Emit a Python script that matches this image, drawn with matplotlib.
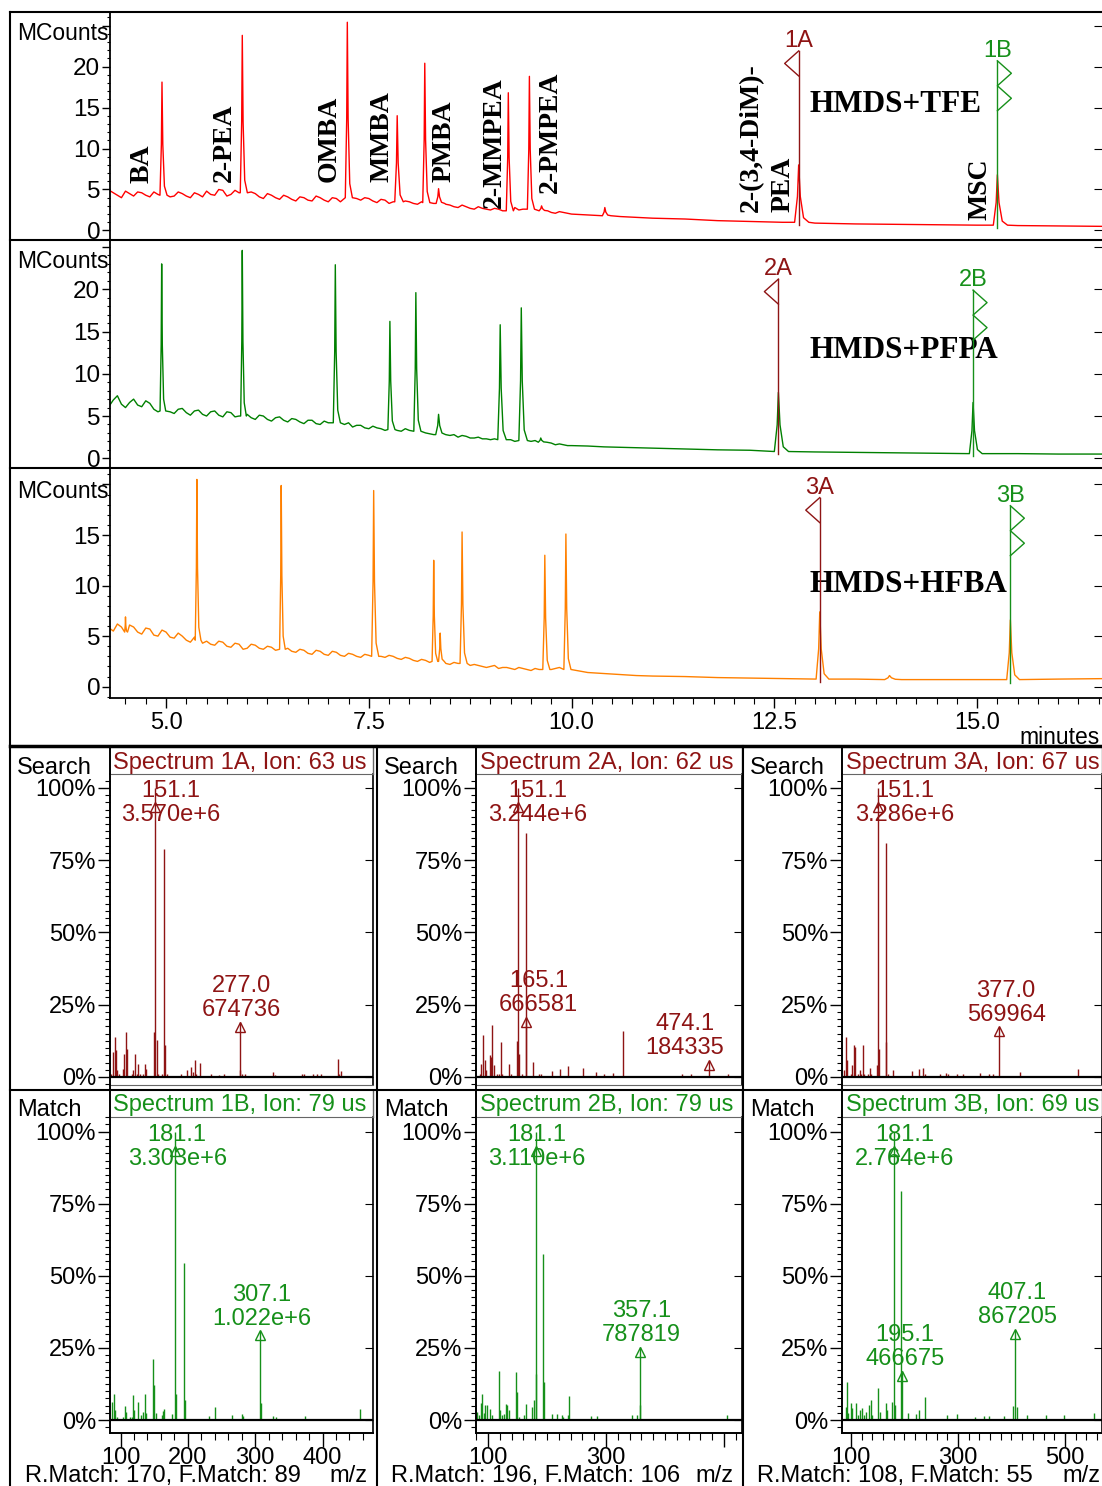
import numpy as np
import matplotlib
matplotlib.use("Agg")
import matplotlib.pyplot as plt
from matplotlib.ticker import MultipleLocator, NullLocator

W, H, DPI = 1102, 1486, 100
plt.rcParams['font.family'] = ['Liberation Sans', 'DejaVu Sans']
SERIF = ['Liberation Serif', 'DejaVu Serif']

# ---------------- chromatograms: minutes vs MCounts ----------------
# baseline sample times (read every 0.1 min early, coarser later)
grid_early = [4.3, 4.4, 4.5, 4.6, 4.7, 4.8, 4.9, 5.0, 5.1, 5.2,
              5.3, 5.4, 5.5, 5.6, 5.7, 5.8, 5.9, 6.0, 6.1, 6.2,
              6.3, 6.4, 6.5, 6.6, 6.7, 6.8, 6.9, 7.0, 7.1, 7.2,
              7.3, 7.4, 7.5, 7.6, 7.7, 7.8, 7.9, 8.0, 8.1, 8.2,
              8.3, 8.4, 8.5, 8.6, 8.7, 8.8, 8.9, 9.0, 9.1, 9.2,
              9.3, 9.4, 9.5, 9.6, 9.7, 9.8, 9.9, 10.0]
grid_late = [10.2, 10.4, 10.6, 10.8, 11.0, 11.4, 11.8, 12.2, 12.6, 13.0,
             13.5, 14.0, 14.5, 15.0, 15.5, 16.0, 16.6]
# extra noise samples half way between the early grid points
grid_mid = [4.35, 4.45, 4.55, 4.65, 4.75, 4.85, 4.95, 5.05, 5.15, 5.25,
            5.35, 5.45, 5.55, 5.65, 5.75, 5.85, 5.95, 6.05, 6.15, 6.25,
            6.35, 6.45, 6.55, 6.65, 6.75, 6.85, 6.95, 7.05, 7.15, 7.25,
            7.35, 7.45, 7.55, 7.65, 7.75, 7.85, 7.95, 8.05, 8.15, 8.25,
            8.35, 8.45, 8.55, 8.65, 8.75, 8.85, 8.95, 9.05, 9.15, 9.25,
            9.35, 9.45, 9.55, 9.65, 9.75, 9.85, 9.95]

tfe_base = [4.9, 4.3, 4.8, 4.2, 4.6, 4.1, 4.4, 4.6, 4.2, 4.5,
            4.0, 4.4, 4.8, 4.3, 4.9, 4.4, 4.6, 4.3, 4.5, 3.9,
            4.3, 3.8, 4.1, 3.6, 4.0, 3.6, 4.0, 3.5, 3.9, 3.6,
            4.2, 3.7, 3.9, 3.4, 3.7, 3.5, 3.3, 3.5, 3.2, 3.6,
            3.3, 3.0, 3.1, 2.8, 2.9, 2.6, 2.7, 2.5, 2.6, 2.3,
            2.8, 2.6, 2.7, 2.4, 2.3, 2.1, 2.2, 2.0,
            1.9, 1.8, 1.7, 1.6, 1.5, 1.4, 1.2, 1.1, 1.0, 0.9,
            0.8, 0.75, 0.7, 0.65, 0.6, 0.55, 0.5]
tfe_mid = [4.6, 4.0, 4.5, 4.7, 4.3, 4.7, 4.5, 4.1, 4.7, 4.2,
           4.6, 4.1, 4.4, 5.0, 4.2, 4.9, 4.2, 4.7, 4.1, 4.5,
           4.0, 4.3, 3.8, 4.1, 3.7, 4.2, 3.7, 4.0, 3.5, 3.8,
           3.9, 4.0, 3.6, 3.8, 3.3, 3.6, 3.6, 3.3, 3.5, 3.4,
           3.5, 3.2, 2.9, 3.1, 2.7, 2.9, 2.6, 2.7, 2.4, 2.6,
           2.5, 2.8, 2.5, 2.5, 2.2, 2.3, 2.1]
pfpa_base = [6.2, 7.4, 6.0, 7.0, 6.1, 6.5, 5.5, 6.0, 5.3, 5.9,
             5.1, 5.7, 5.0, 5.6, 4.9, 5.4, 5.0, 5.2, 4.6, 5.0,
             4.4, 4.9, 4.3, 4.6, 4.1, 4.5, 4.0, 4.2, 4.3, 4.0,
             3.7, 3.9, 3.5, 3.6, 3.3, 3.5, 3.2, 3.3, 3.1, 3.0,
             2.8, 2.9, 2.7, 2.5, 2.6, 2.4, 2.3, 2.2, 2.2, 2.1,
             2.0, 2.1, 2.0, 1.9, 1.7, 1.6, 1.6, 1.5,
             1.45, 1.35, 1.3, 1.25, 1.2, 1.1, 1.0, 0.95, 0.85, 0.75,
             0.7, 0.65, 0.6, 0.55, 0.55, 0.5, 0.5]
pfpa_mid = [6.9, 6.4, 6.6, 6.3, 6.8, 5.8, 6.1, 5.5, 5.8, 5.4,
            5.6, 5.2, 5.5, 5.1, 5.5, 4.9, 5.4, 4.8, 5.1, 4.6,
            4.8, 4.5, 4.7, 4.3, 4.5, 4.1, 4.4, 4.0, 4.0, 4.2,
            3.9, 3.6, 3.8, 3.5, 3.6, 3.3, 3.5, 3.1, 3.3, 2.9,
            3.0, 2.6, 2.8, 2.7, 2.4, 2.5, 2.3, 2.3, 2.1, 2.2,
            2.1, 1.9, 2.1, 1.8, 1.8, 1.7, 1.5]
hfba_base = [5.8, 6.2, 5.4, 5.9, 5.2, 5.7, 5.0, 5.4, 4.8, 5.0,
             4.4, 4.6, 4.5, 4.1, 4.4, 3.9, 4.2, 3.8, 4.1, 3.7,
             3.9, 3.5, 3.8, 3.4, 3.6, 3.2, 3.5, 3.1, 3.4, 3.0,
             3.2, 2.9, 3.1, 3.2, 2.9, 3.0, 2.7, 2.8, 2.5, 2.6,
             2.5, 2.4, 2.2, 2.3, 2.3, 2.2, 2.0, 2.0, 1.8, 1.9,
             1.7, 1.8, 1.6, 1.7, 1.6, 1.8, 1.7, 1.6,
             1.4, 1.3, 1.2, 1.1, 1.05, 1.0, 0.9, 0.85, 0.8, 0.75,
             0.75, 0.7, 0.7, 0.7, 0.75, 0.75, 0.8]
hfba_mid = [5.5, 5.9, 6.1, 5.4, 5.8, 5.1, 5.6, 4.9, 5.3, 4.6,
            4.9, 4.3, 4.2, 4.5, 4.0, 4.3, 3.7, 4.2, 3.8, 4.0,
            3.6, 3.9, 3.5, 3.7, 3.3, 3.6, 3.2, 3.5, 3.1, 3.3,
            3.0, 3.2, 2.9, 3.0, 3.1, 2.8, 2.9, 2.6, 2.7, 2.4,
            2.6, 2.3, 2.4, 2.2, 2.1, 2.1, 1.9, 2.1, 1.9, 1.8,
            1.9, 1.7, 1.8, 1.6, 1.7, 1.9, 1.6]

# peaks: retention time, apex height, foot level, half-width (min)
tfe_pk_t = [4.95, 5.94, 7.235, 7.85, 8.19, 8.36, 9.22, 9.48, 9.63, 10.41, 12.80, 15.25]
tfe_pk_h = [18.1, 23.8, 25.4, 14.0, 20.4, 5.1, 16.8, 18.8, 3.0, 2.8, 8.0, 6.8]
tfe_pk_f = [4.3, 4.6, 4.0, 3.5, 3.4, 3.3, 2.4, 2.6, 2.4, 1.8, 1.0, 0.65]
tfe_pk_w = [0.025, 0.025, 0.025, 0.03, 0.025, 0.03, 0.025, 0.025, 0.03, 0.03, 0.05, 0.05]

pfpa_pk_t = [4.946, 5.94, 7.087, 7.76, 8.08, 8.36, 9.12, 9.38, 9.62, 12.55, 14.95]
pfpa_pk_h = [23.0, 24.6, 22.9, 16.2, 19.6, 5.2, 15.8, 17.8, 2.4, 7.8, 6.6]
pfpa_pk_f = [5.6, 5.0, 4.2, 3.4, 3.2, 2.8, 2.2, 2.1, 1.9, 0.8, 0.55]
pfpa_pk_w = [0.02, 0.02, 0.025, 0.025, 0.025, 0.035, 0.03, 0.03, 0.03, 0.05, 0.045]

hfba_pk_t = [4.5, 5.38, 6.42, 7.56, 8.30, 8.38, 8.65, 9.67, 9.93, 13.06, 13.92, 15.41]
hfba_pk_h = [6.9, 20.5, 19.9, 19.4, 12.5, 5.3, 15.3, 13.0, 15.1, 7.4, 1.1, 6.6]
hfba_pk_f = [5.4, 4.6, 3.7, 3.0, 2.5, 2.5, 2.3, 1.7, 1.7, 0.75, 0.7, 0.7]
hfba_pk_w = [0.01, 0.02, 0.02, 0.025, 0.02, 0.02, 0.025, 0.025, 0.025, 0.045, 0.06, 0.045]

# spectrum markers on the chromatograms: time, foot, flag top
marks_tfe = [('1A', 12.80, 1.0, 21.9), ('1B', 15.25, 0.65, 20.7)]
marks_pfpa = [('2A', 12.55, 0.8, 21.2), ('2B', 14.95, 0.55, 19.9)]
marks_hfba = [('3A', 13.06, 0.75, 18.7), ('3B', 15.41, 0.7, 17.9)]

compound_names = ['BA', '2-PEA', 'OMBA', 'MMBA', 'PMBA', '2-MMPEA', '2-PMPEA',
                  '2-(3,4-DiM)-', 'PEA', 'MSC']
# label anchor (x centre, bottom) in pixels
compound_pos = [(142, 183), (224, 182), (329, 182), (382, 182), (444, 182),
                (494, 208), (550, 193), (751, 212), (783, 212), (980, 220)]

# ---------------- mass spectra: m/z vs relative abundance (%) ----------------
s1a_mz = [85.4, 89.4, 91.8, 93.3, 95.3, 98.3, 103.2, 105.7, 107.7, 109.1,
          116.5, 119.0, 121.5, 124.0, 126.4, 128.9, 132.8, 136.3, 137.3, 149.6,
          153.6, 155.5, 162.0, 163.9, 165.4, 169.4, 189.6, 198.0, 204.4, 207.9,
          210.4, 212.8, 217.8, 235.0, 246.4, 253.3, 278.0, 281.0, 284.4, 326.4,
          329.4, 369.9, 371.8, 385.7, 391.6, 398.0, 422.7, 424.2, 427.6]
s1a_pc = [1.2, 8.7, 13.8, 9.2, 2.3, 1.2, 2.9, 8.1, 15.6, 9.8,
          1.2, 2.3, 8.1, 1.2, 4.6, 1.2, 1.2, 4.6, 2.9, 15.6,
          12.7, 1.2, 1.2, 79.0, 11.0, 1.2, 1.2, 2.3, 3.5, 1.7,
          5.8, 1.2, 5.0, 1.2, 0.8, 1.2, 2.3, 1.2, 1.2, 1.7,
          0.8, 1.2, 1.2, 1.2, 1.2, 1.2, 6.3, 1.2, 2.0]
s2a_mz = [86.2, 89.0, 91.8, 94.5, 97.3, 102.9, 105.7, 107.4, 109.7, 115.8,
          118.6, 121.4, 124.2, 136.0, 139.3, 149.4, 153.3, 157.3, 164.1, 176.9,
          186.9, 189.7, 208.2, 221.6, 235.0, 260.8, 283.2, 296.0, 311.8, 328.0,
          429.4, 444.5, 506.0]
s2a_pc = [1.2, 4.6, 14.6, 5.8, 2.3, 7.5, 6.9, 18.1, 4.0, 1.2,
          1.2, 12.1, 1.2, 4.6, 1.2, 12.3, 8.1, 1.2, 84.5, 5.2,
          1.2, 1.2, 2.0, 2.7, 3.8, 3.1, 1.7, 1.2, 1.5, 15.9,
          1.2, 1.2, 1.2]
s3a_mz = [87.0, 91.3, 93.2, 99.4, 102.5, 105.6, 107.5, 113.0, 116.2, 119.3,
          121.8, 124.3, 132.4, 135.5, 138.0, 148.0, 153.0, 164.8, 166.0, 169.8,
          179.1, 213.3, 227.0, 235.1, 238.2, 266.8, 278.0, 281.0, 298.6, 309.1,
          340.3, 357.7, 365.2, 415.0, 524.0]
s3a_pc = [2.3, 13.9, 5.8, 1.2, 4.1, 11.0, 10.4, 1.2, 2.3, 1.2,
          11.0, 1.2, 1.2, 3.1, 1.2, 4.1, 9.8, 80.8, 12.2, 1.2,
          2.3, 2.0, 2.7, 3.1, 1.2, 1.2, 1.5, 1.2, 1.2, 1.2,
          1.5, 1.2, 1.2, 1.7, 2.7]
s1b_mz = [88.0, 90.0, 92.0, 94.0, 103.9, 106.4, 108.4, 113.9, 116.9, 118.4,
          120.4, 125.3, 130.3, 133.8, 136.3, 137.8, 147.7, 150.2, 152.7, 161.2,
          163.7, 165.2, 176.6, 182.6, 194.1, 195.6, 231.4, 239.9, 265.8, 279.7,
          282.2, 308.1, 326.0, 331.0, 373.3, 455.0]
s1b_pc = [6.4, 9.2, 3.5, 1.2, 1.2, 4.9, 2.9, 1.2, 1.2, 8.7,
          3.5, 6.4, 1.7, 2.9, 9.2, 2.3, 21.0, 12.1, 2.3, 1.7,
          3.2, 3.7, 2.1, 9.2, 54.6, 6.9, 1.4, 4.6, 1.7, 2.1,
          1.4, 5.8, 1.4, 1.2, 1.4, 3.7]
s2b_mz = [81.6, 84.4, 88.3, 90.0, 92.8, 95.6, 98.4, 104.0, 106.8, 118.6,
          120.8, 123.6, 126.4, 129.8, 132.6, 136.0, 147.3, 149.0, 151.8, 161.4,
          164.2, 174.9, 178.8, 181.7, 192.9, 194.1, 208.2, 216.6, 225.1, 227.9,
          236.4, 238.1, 274.2, 284.3, 344.7, 353.1, 358.2, 505.4]
s2b_pc = [2.9, 1.7, 5.8, 9.2, 2.5, 5.2, 5.2, 3.7, 1.7, 17.1,
          3.5, 1.7, 2.1, 5.4, 5.2, 3.5, 16.5, 9.8, 1.2, 1.7,
          5.5, 4.6, 6.9, 16.0, 57.5, 13.3, 2.1, 2.1, 1.7, 1.2,
          1.7, 8.3, 1.4, 1.4, 1.7, 1.7, 5.2, 1.7]
s3b_mz = [90.3, 92.2, 94.6, 99.6, 102.7, 108.9, 113.9, 116.4, 121.4, 124.5,
          128.9, 133.9, 137.0, 140.0, 151.3, 153.8, 165.0, 168.0, 177.4, 182.4,
          194.2, 207.2, 220.9, 227.1, 238.3, 280.0, 298.6, 331.6, 348.4, 357.7,
          386.9, 403.1, 409.7, 428.9, 464.4, 498.6, 554.6]
s3b_pc = [4.6, 13.3, 2.3, 5.8, 4.0, 5.8, 1.7, 3.5, 4.0, 1.7,
          2.9, 5.2, 6.9, 1.7, 11.0, 2.9, 5.8, 3.5, 6.4, 5.2,
          79.4, 2.5, 2.1, 3.5, 8.1, 1.7, 2.1, 1.2, 1.4, 1.4,
          1.4, 4.9, 4.6, 1.7, 1.7, 1.7, 2.3]

# labelled ions: m/z and absolute abundance (first one is the base peak)
ann_1a_mz, ann_1a_ab = [151.1, 277.0], [3.570e6, 674736]
ann_2a_mz, ann_2a_ab = [151.1, 165.1, 474.1], [3.244e6, 666581, 184335]
ann_3a_mz, ann_3a_ab = [151.1, 377.0], [3.286e6, 569964]
ann_1b_mz, ann_1b_ab = [181.1, 307.1], [3.303e6, 1.022e6]
ann_2b_mz, ann_2b_ab = [181.1, 357.1], [3.110e6, 787819]
ann_3b_mz, ann_3b_ab = [181.1, 195.1, 407.1], [2.764e6, 466675, 867205]
# label shift in pixels
ann_1a_dx, ann_2a_dx, ann_3a_dx = [16, 2], [20, 12, -24], [26, 7]
ann_1b_dx, ann_2b_dx, ann_3b_dx = [2, 2], [1, 2], [10, 3, 2]

ion_a = [63, 62, 67]
ion_b = [79, 79, 69]
r_match = [170, 196, 108]
f_match = [89, 106, 55]

RED, GREEN, ORANGE = '#ff0000', '#008000', '#ff8000'
DKRED, MGREEN = '#8e1414', '#16901a'

fig = plt.figure(figsize=(W / DPI, H / DPI), dpi=DPI)
frame = fig.add_axes([0, 0, 1, 1])
frame.set_xlim(0, W)
frame.set_ylim(H, 0)
frame.axis('off')
frame.set_zorder(5)
PX = frame.transData


def box(x0, y0, x1, y1):
    return [x0 / W, 1 - y1 / H, (x1 - x0) / W, (y1 - y0) / H]


def build_trace(base_y, mid_y, pk_t, pk_h, pk_f, pk_w):
    bt = np.array(grid_early + grid_late + grid_mid)
    by = np.array(list(base_y) + list(mid_y), float)
    keep = np.ones(len(bt), bool)
    for t, w in zip(pk_t, pk_w):
        keep &= ~((bt > t - 1.5 * w) & (bt < t + 3 * w))
    xs, ys = list(bt[keep]), list(by[keep])
    for t, h, f, w in zip(pk_t, pk_h, pk_f, pk_w):
        d = h - f
        xs += [t - w, t - 0.3 * w, t, t + 0.4 * w, t + 1.2 * w, t + 2.5 * w]
        ys += [f, f + 0.45 * d, h, f + 0.45 * d, f + 0.08 * d, f]
    o = np.argsort(xs, kind='stable')
    return np.array(xs)[o], np.array(ys)[o]


def chrom_panel(y0, y1, ylim, labels, base_y, mid_y, pk, color, marks, title,
                title_y, mc_y):
    ax = fig.add_axes(box(110, y0, 1102, y1))
    ax.set_xlim(4.309, 16.54)
    ax.set_ylim(*ylim)
    dx = (16.54 - 4.309) / (1102 - 110)
    dy = (ylim[1] - ylim[0]) / (y1 - y0)
    t, s = build_trace(base_y, mid_y, *pk)
    ax.plot(t, s, color=color, lw=1.0, zorder=2)
    for lab, tm, foot, top in marks:
        c = DKRED if lab.endswith('A') else MGREEN
        ax.plot([tm, tm], [foot - 0.3, top], color=c, lw=1.0, zorder=3)
        if lab.endswith('A'):
            ax.plot([tm, tm - 14 * dx, tm], [top, top - 12.5 * dy, top - 25 * dy],
                    color=c, lw=1.0, zorder=3)
        else:
            ax.plot([tm, tm + 14 * dx, tm, tm + 14 * dx, tm],
                    [top - k * 12.5 * dy for k in range(5)], color=c, lw=1.0, zorder=3)
        ax.text(tm, top + 10 * dy, lab, ha='center', va='center', color=c,
                fontsize=17)
    ax.text(810, title_y, title, transform=PX, ha='left', va='center',
            fontsize=22.5, family=SERIF, weight='bold', zorder=1)
    ticks = [0, 5, 10, 15, 20, 25]
    ticks = [v for v in ticks if v <= ylim[1]]
    ax.set_yticks(ticks)
    ax.set_yticklabels(labels[:len(ticks)])
    ax.yaxis.set_minor_locator(MultipleLocator(1))
    ax.tick_params(axis='y', which='major', direction='out', length=6, width=1,
                   labelsize=17.5, pad=1)
    ax.tick_params(axis='y', which='minor', direction='out', length=2.5, width=0.8)
    ax.tick_params(axis='x', which='both', bottom=False, labelbottom=False)
    sec = ax.secondary_yaxis('right')
    sec.set_yticks(ticks)
    sec.yaxis.set_minor_locator(NullLocator())
    sec.tick_params(direction='in', length=6, labelright=False)
    sec.spines['right'].set_visible(False)
    ax.spines['right'].set_visible(False)
    for sp in ('left', 'top', 'bottom'):
        ax.spines[sp].set_linewidth(1.3)
    frame.text(17, mc_y, 'MCounts', ha='left', va='center', fontsize=16.5)
    return ax


ax1 = chrom_panel(12, 240, (-1.16, 26.65), ['0', '5', '10', '15', '20', ''],
                  tfe_base, tfe_mid, (tfe_pk_t, tfe_pk_h, tfe_pk_f, tfe_pk_w), RED,
                  marks_tfe, 'HMDS+TFE', 104, 33)
ax2 = chrom_panel(240, 468, (-1.15, 25.83), ['0', '5', '10', '15', '20', ''],
                  pfpa_base, pfpa_mid, (pfpa_pk_t, pfpa_pk_h, pfpa_pk_f, pfpa_pk_w),
                  GREEN, marks_pfpa, 'HMDS+PFPA', 350, 262)
ax3 = chrom_panel(468, 698, (-1.12, 21.63), ['0', '5', '10', '15', ''],
                  hfba_base, hfba_mid, (hfba_pk_t, hfba_pk_h, hfba_pk_f, hfba_pk_w),
                  ORANGE, marks_hfba, 'HMDS+HFBA', 585, 492)

for name, (cx, by) in zip(compound_names, compound_pos):
    ax1.text(cx, by, name, transform=PX, rotation=90, ha='center', va='bottom',
             fontsize=20, family=SERIF, weight='bold', zorder=4)

ax3.xaxis.set_major_locator(MultipleLocator(2.5))
ax3.xaxis.set_minor_locator(MultipleLocator(0.25))
ax3.xaxis.set_major_formatter('{x:.1f}')
ax3.tick_params(axis='x', which='major', bottom=True, labelbottom=True, direction='out',
                length=7, width=1, labelsize=17, pad=3)
ax3.tick_params(axis='x', which='minor', bottom=True, direction='out', length=4, width=0.8)
frame.text(1100, 738, 'minutes', ha='right', va='center', fontsize=16.5)


# ---------------- spectra ----------------
spec_cols = [(110, 373), (476, 742), (842, 1102)]
spec_xlim = [(84.3, 475.0), (79.7, 530.5), (83.2, 569.2)]
spec_xmaj = [[100, 200, 300, 400], [100, 300, 500], [100, 300, 500]]
spec_xlab = [['100', '200', '300', '400'], ['100', '300', ''], ['100', '300', '500']]
spec_rows = [(774, 1085), (1117, 1433)]
spec_ylim = [(-2.77, 104.8), (-4.5, 105.1)]


def fmt_ab(v):
    if v >= 1e6:
        e = int(np.floor(np.log10(v)))
        return f"{v / 10 ** e:.3f}e+{e}"
    return f"{int(round(v))}"


def spec_panel(col, row, mz, pct, ann_mz, ann_ab, ann_dx, color):
    x0, x1 = spec_cols[col]
    y0, y1 = spec_rows[row]
    ax = fig.add_axes(box(x0, y0, x1, y1))
    xl, yl = spec_xlim[col], spec_ylim[row]
    ax.set_xlim(*xl)
    ax.set_ylim(*yl)
    xpp = (xl[1] - xl[0]) / (x1 - x0)
    ax.vlines(mz, 0, pct, color=color, lw=1.0)
    ax.axhline(0, color='black', lw=1.6, zorder=3)
    base = ann_ab[0]
    for m, a, off in zip(ann_mz, ann_ab, ann_dx):
        p = 100.0 * a / base
        tip = min(p, 95.0)
        ax.vlines([m], 0, p, color=color, lw=1.0)
        ax.plot([m], [tip - 1.6], marker='^', ms=6.5, mfc='none', mec=color, mew=1.0)
        lab = f"{m:.1f}\n{fmt_ab(a)}"
        xt = m + off * xpp
        if p > 90:
            ax.text(xt, 102.8, lab, ha='center', va='top', color=color, fontsize=17,
                    linespacing=1.12)
        else:
            ax.text(xt, tip + 0.4, lab, ha='center', va='bottom', color=color,
                    fontsize=17, linespacing=1.12)
    ax.set_yticks([0, 25, 50, 75, 100])
    ax.set_yticklabels(['0%', '25%', '50%', '75%', '100%'])
    ax.yaxis.set_minor_locator(MultipleLocator(2.5))
    ax.tick_params(axis='y', which='major', direction='out', length=9, width=1,
                   labelsize=17, pad=1)
    ax.tick_params(axis='y', which='minor', direction='out', length=3.5, width=0.8)
    sec = ax.secondary_yaxis('right')
    sec.set_yticks([0, 25, 50, 75, 100])
    sec.yaxis.set_minor_locator(NullLocator())
    sec.tick_params(direction='in', length=6, labelright=False)
    sec.spines['right'].set_visible(False)
    ax.spines['top'].set_color('#666666')
    ax.spines['left'].set_linewidth(1.4)
    ax.spines['right'].set_linewidth(1.2)
    if row == 0:
        ax.spines['bottom'].set_color('#666666')
        ax.tick_params(axis='x', which='both', bottom=False, labelbottom=False)
    else:
        ax.spines['bottom'].set_linewidth(1.4)
        ax.set_xticks(spec_xmaj[col])
        ax.set_xticklabels(spec_xlab[col])
        ax.xaxis.set_minor_locator(MultipleLocator(20))
        ax.tick_params(axis='x', which='major', direction='out', length=10, width=1,
                       labelsize=17, pad=0)
        ax.tick_params(axis='x', which='minor', direction='out', length=5, width=0.8)
    return ax


spec_a = [(s1a_mz, s1a_pc, ann_1a_mz, ann_1a_ab, ann_1a_dx),
          (s2a_mz, s2a_pc, ann_2a_mz, ann_2a_ab, ann_2a_dx),
          (s3a_mz, s3a_pc, ann_3a_mz, ann_3a_ab, ann_3a_dx)]
spec_b = [(s1b_mz, s1b_pc, ann_1b_mz, ann_1b_ab, ann_1b_dx),
          (s2b_mz, s2b_pc, ann_2b_mz, ann_2b_ab, ann_2b_dx),
          (s3b_mz, s3b_pc, ann_3b_mz, ann_3b_ab, ann_3b_dx)]

side_x = [17, 384, 750]
head_x = [113, 480, 846]
rm_x = [25, 391, 757]
mz_x = [367, 733, 1100]
for c in range(3):
    spec_panel(c, 0, *spec_a[c], DKRED)
    spec_panel(c, 1, *spec_b[c], MGREEN)
    frame.text(side_x[c], 768, 'Search', fontsize=17, va='center')
    frame.text(side_x[c], 1110, 'Match', fontsize=17, va='center')
    frame.text(head_x[c], 763, f"Spectrum {c + 1}A, Ion: {ion_a[c]} us", color=DKRED,
               fontsize=17, va='center')
    frame.text(head_x[c], 1105, f"Spectrum {c + 1}B, Ion: {ion_b[c]} us", color=MGREEN,
               fontsize=17, va='center')
    frame.text(rm_x[c], 1476, f"R.Match: {r_match[c]}, F.Match: {f_match[c]}",
               fontsize=17, va='center')
    frame.text(mz_x[c], 1476, 'm/z', fontsize=17, va='center', ha='right')
    xa, xb = spec_cols[c]
    # header box sides and axis continuation
    frame.plot([xa, xa], [748, 774], color='black', lw=1.4)
    frame.plot([xb, xb], [748, 774], color='#666666', lw=1.0)
    frame.plot([xa, xa], [1085, 1090], color='black', lw=1.4)
    frame.plot([xa, xa], [1091, 1117], color='black', lw=1.4)
    frame.plot([xb, xb], [1091, 1117], color='#666666', lw=1.0)

# frame / cell borders
frame.plot([10, 10], [12, H], color='black', lw=1.5)
frame.plot([10, W], [12, 12], color='black', lw=1.5)
frame.plot([10, W], [240, 240], color='black', lw=1.5)
frame.plot([10, W], [468, 468], color='black', lw=1.5)
frame.plot([10, W], [746, 746], color='black', lw=2.5)
frame.plot([10, W], [1090, 1090], color='black', lw=1.5)
frame.plot([377, 377], [746, H], color='black', lw=1.5)
frame.plot([743, 743], [746, H], color='black', lw=1.5)

fig.savefig('out.png', dpi=DPI, facecolor='white')
